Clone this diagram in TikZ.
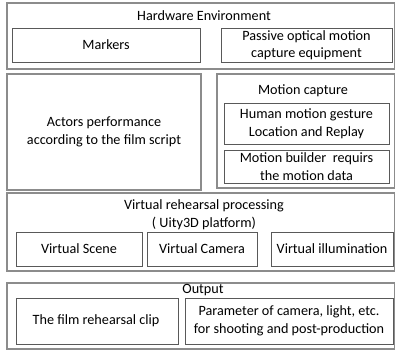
\documentclass[tikz,border=0pt]{standalone}
\usepackage{fontspec}
\setmainfont{Carlito}
\begin{document}
\begin{tikzpicture}[x=1pt,y=-1pt,
  outer/.style={draw=black!45, line width=1.1pt},
  inner/.style={draw=black!65, line width=0.9pt},
  lbl/.style={font=\fontsize{14.2}{17.5}\selectfont, align=center, inner sep=0pt, text=black}]
\useasboundingbox (0,0) rectangle (395,351);
% outer frames
\draw[outer] (7,3) rectangle (395,69);
\draw[outer] (7,74) rectangle (201,190);
\draw[outer] (217,74) rectangle (395,188);
\draw[outer] (7,193) rectangle (395,271);
\draw[outer] (7,283) rectangle (395,349);
% titles
\node[lbl] (hwt) at (204,16) {Hardware Environment};
\node[lbl] (mct) at (303,91) {Motion capture};
\node[lbl] (vrt) at (204,214.5) {Virtual rehearsal processing\\( Uity3D platform)};
\node[lbl] (outt) at (203,290) {Output};
% inner boxes
\draw[inner] (12,28) rectangle (200,62);
\node[lbl] (markers) at (106,45) {Markers};
\draw[inner] (221,28) rectangle (392,62);
\node[lbl] (passive) at (306.5,45) {Passive optical motion\\capture equipment};
\node[lbl] (actors) at (104,132) {Actors performance\\according to the film script};
\draw[inner] (224,103) rectangle (389,144);
\node[lbl] (human) at (306.5,123.5) {Human motion gesture\\Location and Replay};
\draw[inner] (224,150) rectangle (389,183);
\node[lbl] (builder) at (306.5,166.5) {Motion builder\ \ requirs\\the motion data};
\draw[inner] (16,232) rectangle (142,266);
\node[lbl] (vscene) at (79,249) {Virtual Scene};
\draw[inner] (147,232) rectangle (257,266);
\node[lbl] (vcam) at (202,249) {Virtual Camera};
\draw[inner] (271,232) rectangle (393,266);
\node[lbl] (villum) at (332,249) {Virtual illumination};
\draw[inner] (16,298) rectangle (178,344);
\node[lbl] (clip) at (96,321) {The film rehearsal clip};
\draw[inner] (185,298) rectangle (393,344);
\node[lbl] (param) at (289,321) {Parameter of camera, light, etc.\\for shooting and post-production};
\end{tikzpicture}
\end{document}
